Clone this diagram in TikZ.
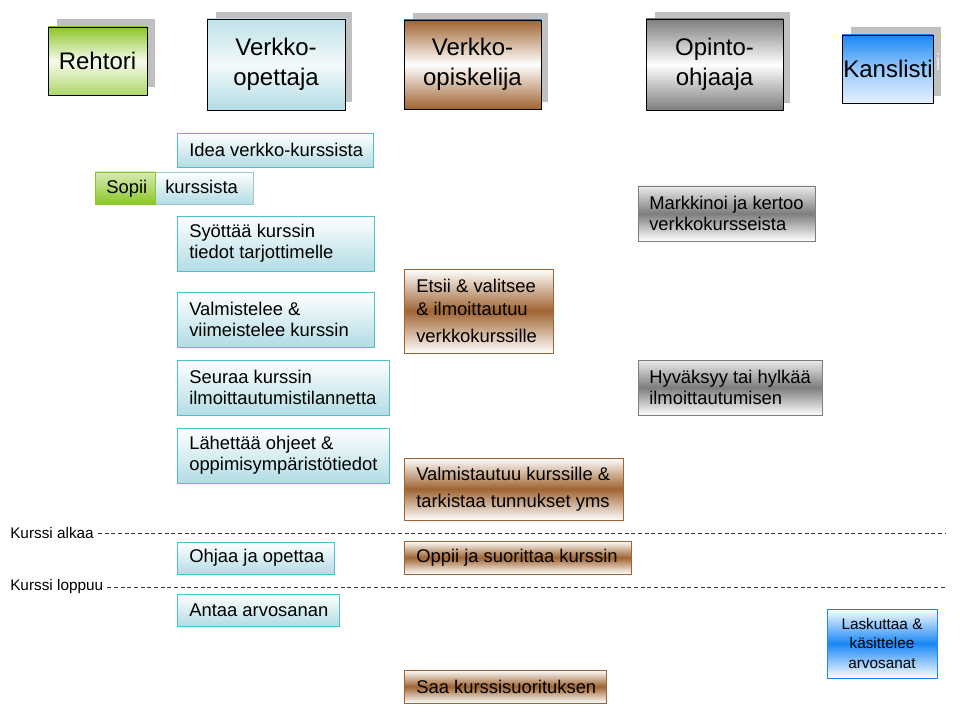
\documentclass[tikz,border=0pt]{standalone}
\usepackage{fontspec}
\setmainfont{Liberation Sans}
\usetikzlibrary{fit}
\definecolor{gr}{RGB}{140,198,40}
\definecolor{cy}{RGB}{178,220,228}
\definecolor{cyb}{RGB}{80,192,200}
\definecolor{br}{RGB}{160,100,50}
\definecolor{gy}{RGB}{125,125,125}
\definecolor{bl}{RGB}{25,135,245}
\definecolor{shd}{RGB}{192,192,192}
\tikzset{
  shadowbox/.style={fill=shd, draw=none, inner sep=0pt},
  headbox/.style={draw=black, line width=0.7pt, inner sep=0pt},
  taskbox/.style={line width=0.7pt, inner sep=0pt},
  hlbl/.style={font=\fontsize{18}{22.5}\selectfont, align=center, inner sep=0pt},
  tlbl/.style={font=\fontsize{13.8}{16}\selectfont, align=left, anchor=west, inner sep=0pt},
  slbl/.style={font=\fontsize{11.5}{14.3}\selectfont, inner sep=0pt},
  cytask/.style={taskbox, draw=cyb, top color=white, bottom color=cy},
  brtask/.style={taskbox, draw=br, top color=white, bottom color=white, middle color=br},
  gytask/.style={taskbox, draw=gy, top color=white!85!gy, bottom color=white, middle color=gy},
  bltask/.style={taskbox, draw=bl, top color=white, bottom color=white, middle color=bl},
  sepline/.style={dashed, dash pattern=on 3pt off 2pt, line width=0.5pt, black!80}
}
\begin{document}
\begin{tikzpicture}[x=0.75pt,y=-0.75pt]
\useasboundingbox[fill=white] (0,0) rectangle (960,720);

% ---------- headers ----------
\node[shadowbox, fit={(57,19) (155,87)}] (s1) {};
\node[headbox, top color=gr, bottom color=gr!70, middle color=white!92!gr, fit={(48,27) (147,95)}] (h1) {};
\node[hlbl] (h1t) at (h1.center) {Rehtori};

\node[shadowbox, fit={(216,12) (352,102)}] (s2) {};
\node[headbox, top color=cy!85, bottom color=cy, middle color=white!85!cy, fit={(207,19) (345,110)}] (h2) {};
\node[hlbl] (h2t) at (h2.center) {Verkko-\\opettaja};

\node[shadowbox, fit={(413,13) (548,102)}] (s3) {};
\node[headbox, top color=br, bottom color=br, middle color=white, fit={(404,20) (541,109)}] (h3) {};
\node[hlbl] (h3t) at (h3.center) {Verkko-\\opiskelija};

\node[shadowbox, fit={(655,12) (790,103)}] (s4) {};
\node[headbox, top color=gy, bottom color=gy, middle color=white, fit={(646,19) (783,110)}] (h4) {};
\node[hlbl] (h4t) at (h4.center) {Opinto-\\ohjaaja};

\node[shadowbox, fit={(851,27) (941,96)}] (s5) {};
\node[hlbl, text=black!10] (s5t) at (938,62) {i};
\node[headbox, top color=bl, bottom color=bl!12, middle color=bl!45, fit={(842,35) (933,103)}] (h5) {};
\node[hlbl] (h5t) at (888,69) {Kanslisti};

% ---------- Verkko-opettaja tasks ----------
\node[cytask, fit={(177,133) (373,167)}] (a1) {};
\node[tlbl] (a1t) at (189,150) {Idea verkko-kurssista};

\node[taskbox, draw=cyb!60!gray!60, top color=white, bottom color=cy, fit={(155,172) (253,204)}] (a2) {};
\node[taskbox, draw=gr, top color=gr!35, bottom color=gr, fit={(95,172) (155,204)}] (a2g) {};
\node[tlbl, anchor=base west] (a2gt) at (106,194) {Sopii};
\node[tlbl, anchor=base west] (a2t) at (165,194) {kurssista};

\node[cytask, fit={(177,216) (374,271)}] (a3) {};
\node[tlbl, font=\fontsize{13.8}{15.8}\selectfont] (a3t) at (189,243.5) {Syöttää kurssin\\tiedot tarjottimelle};

\node[cytask, fit={(177,292) (374,347)}] (a4) {};
\node[tlbl, font=\fontsize{13.8}{15.8}\selectfont] (a4t) at (189,319.5) {Valmistelee \&\\viimeistelee kurssin};

\node[cytask, fit={(177,360) (389,415)}] (a5) {};
\node[tlbl, font=\fontsize{13.8}{15.8}\selectfont] (a5t) at (189,387.5) {Seuraa kurssin\\ilmoittautumistilannetta};

\node[cytask, fit={(177,428) (389,483)}] (a6) {};
\node[tlbl, font=\fontsize{13.8}{15.8}\selectfont] (a6t) at (189,455.5) {Lähettää ohjeet \&\\oppimisympäristötiedot};

\node[cytask, fit={(177,542) (334,574)}] (a7) {};
\node[tlbl] (a7t) at (189,558) {Ohjaa ja opettaa};

\node[cytask, fit={(177,594) (339,626)}] (a8) {};
\node[tlbl] (a8t) at (189,610) {Antaa arvosanan};

% ---------- Verkko-opiskelija tasks ----------
\node[brtask, fit={(404,269) (553,353)}] (b1) {};
\node[tlbl, font=\fontsize{13.8}{17.2}\selectfont] (b1t) at (416,311) {Etsii \& valitsee\\\& ilmoittautuu\\[3pt]verkkokurssille};

\node[brtask, fit={(404,458) (623,520)}] (b2) {};
\node[tlbl, font=\fontsize{13.8}{20.2}\selectfont] (b2t) at (416,489) {Valmistautuu kurssille \&\\tarkistaa tunnukset yms};

\node[brtask, fit={(404,541) (631,574)}] (b3) {};
\node[tlbl] (b3t) at (416,557.5) {Oppii ja suorittaa kurssin};

\node[brtask, fit={(404,670) (606,703)}] (b4) {};
\node[tlbl] (b4t) at (416,686.5) {Saa kurssisuorituksen};

% ---------- Opinto-ohjaaja tasks ----------
\node[gytask, fit={(638,186) (815,241)}] (c1) {};
\node[tlbl, font=\fontsize{13.8}{15.8}\selectfont] (c1t) at (649,213.5) {Markkinoi ja kertoo\\verkkokursseista};

\node[gytask, fit={(638,360) (822,415)}] (c2) {};
\node[tlbl, font=\fontsize{13.8}{15.8}\selectfont] (c2t) at (649,387.5) {Hyväksyy tai hylkää\\ilmoittautumisen};

% ---------- Kanslisti task ----------
\node[bltask, fit={(827,609) (937,678)}] (d1) {};
\node[slbl, align=center] (d1t) at (d1.center) {Laskuttaa \&\\käsittelee\\arvosanat};

% ---------- separators ----------
\node[slbl, anchor=west] (ka) at (10,533) {Kurssi alkaa};
\coordinate (kae) at (946,533);
\draw[sepline] ([xshift=3pt]ka.east) -- (kae);

\node[slbl, anchor=west] (kl) at (10,587) {Kurssi loppuu};
\coordinate (kle) at (946,587);
\draw[sepline] ([xshift=3pt]kl.east) -- (kle);
\end{tikzpicture}
\end{document}
